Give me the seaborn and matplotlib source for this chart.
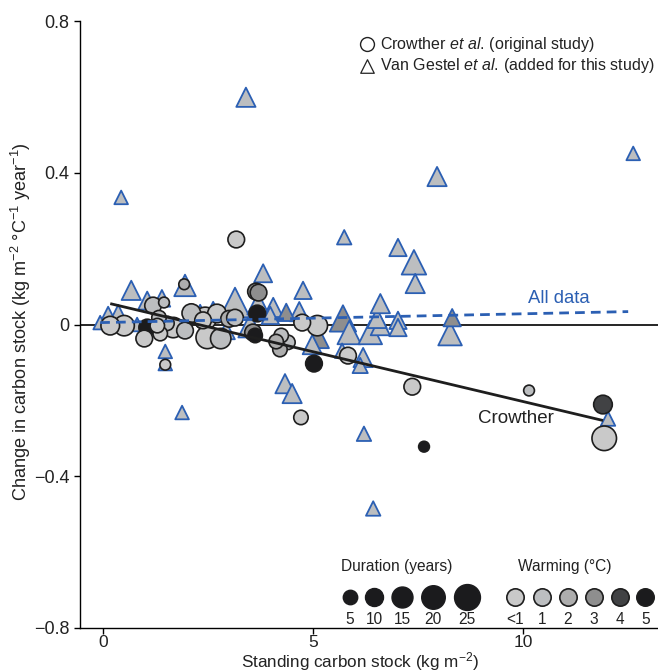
import numpy as np
import pandas as pd
import matplotlib
matplotlib.use("Agg")
import matplotlib.pyplot as plt
import seaborn as sns

# Crowther et al. (circles): standing stock, change, duration (years), warming class
cr_x = [3.17, 1.93, 3.64, 3.70, 3.67, 3.14, 2.71, 2.43, 2.48, 2.80, 3.57, 3.62,
        4.24, 4.40, 4.12, 4.21, 4.74, 5.10, 5.02, 5.83, 7.36, 10.14, 7.64, 11.90,
        11.93, 4.71, 0.17, 0.50, 1.19, 1.45, 1.05, 0.98, 1.33, 1.29, 1.52, 1.36,
        1.67, 1.95, 2.38, 1.48, 2.10, 3.00]
cr_y = [0.224, 0.106, 0.087, 0.084, 0.029, 0.018, 0.029, 0.016, -0.034, -0.037,
        -0.021, -0.029, -0.029, -0.047, -0.045, -0.066, 0.005, -0.003, -0.103,
        -0.082, -0.164, -0.174, -0.322, -0.211, -0.300, -0.245, -0.003, -0.003,
        0.050, 0.058, -0.008, -0.037, 0.018, -0.003, 0.003, -0.024, -0.008,
        -0.016, 0.011, -0.106, 0.030, 0.015]
cr_dur = [8, 1, 8, 8, 8, 8, 11, 18, 18, 14, 8, 5, 5, 5, 5, 5, 8, 14, 8, 8, 8, 1,
          1, 11, 22, 5, 11, 14, 8, 1, 8, 8, 5, 5, 5, 5, 14, 8, 8, 1, 11, 8]
cr_warm = ["<1", "2", "3", "3", "5", "1", "<1", "<1", "<1", "1", "3", "5",
           "1", "1", "2", "2", "<1", "<1", "5", "<1", "<1", "1", "5", "4",
           "<1", "<1", "<1", "<1", "1", "1", "5", "<1", "1", "<1", "1", "<1",
           "<1", "1", "<1", "<1", "1", "2"]

# Van Gestel et al. (triangles)
vg_x = [3.40, 12.62, 0.43, 7.95, 5.74, 7.02, 7.40, 7.43, 3.81, 1.95, 0.67, 1.88,
        6.21, 6.43, 4.33, 4.50, 12.02, 1.48, 1.48, 1.05, 1.40, 4.76, 3.14, 3.69,
        4.05, 4.36, 4.67, 3.50, 6.60, 5.71, 5.86, 6.36, 6.52, 6.60, 7.02, 7.02,
        8.31, 8.26, 4.98, 5.69, 6.19, 6.12, 5.12, 0.12, 0.36, -0.07, 0.81, 2.12,
        2.31, 2.62, 3.98, 2.93]
vg_y = [0.599, 0.451, 0.335, 0.390, 0.230, 0.203, 0.164, 0.108, 0.135, 0.103,
        0.090, -0.232, -0.288, -0.485, -0.156, -0.182, -0.248, -0.071, -0.103,
        0.063, 0.069, 0.090, 0.058, 0.055, 0.045, 0.032, 0.034, -0.003, 0.055,
        0.016, -0.021, -0.021, 0.016, -0.003, -0.008, 0.011, 0.018, -0.024,
        -0.053, -0.069, -0.087, -0.108, -0.034, 0.024, 0.029, 0.005, 0.000,
        0.024, 0.032, 0.037, 0.024, -0.016]
vg_dur = [12, 4, 4, 12, 5, 9, 22, 12, 10, 16, 12, 4, 5, 5, 12, 12, 5, 4, 4, 10,
          8, 9, 34, 16, 12, 9, 12, 20, 12, 26, 20, 20, 12, 12, 9, 9, 9, 20, 12,
          5, 12, 6, 16, 9, 9, 4, 4, 6, 6, 9, 9, 9]
vg_warm = ["1"] * len(vg_x)
for i in (25, 29, 36, 42):
    vg_warm[i] = "3"

# fitted lines
crowther_fit_x = [0.17, 11.9]
crowther_fit_y = [0.055, -0.253]
all_fit_x = [-0.07, 12.5]
all_fit_y = [0.005, 0.034]

warm_levels = ["<1", "1", "2", "3", "4", "5"]
dur_levels = [5, 10, 15, 20, 25]

warm_pal = {"<1": "#c9c9c9", "1": "#bcbec0", "2": "#adadad",
            "3": "#8e8e8e", "4": "#414244", "5": "#1b1b1d"}
blue = "#2b5fb3"
ink = "#222222"

df_cr = pd.DataFrame({"stock": cr_x, "change": cr_y,
                      "duration": cr_dur, "warming": cr_warm})
df_vg = pd.DataFrame({"stock": vg_x, "change": vg_y,
                      "duration": vg_dur, "warming": vg_warm})
df_cr = df_cr.sort_values("duration", ascending=False)
df_vg = df_vg.sort_values("duration", ascending=False)

sns.set_style("ticks")
plt.rcParams["font.family"] = ["Liberation Sans", "DejaVu Sans"]
plt.rcParams["mathtext.fontset"] = "custom"
plt.rcParams["mathtext.rm"] = "Liberation Sans"
plt.rcParams["mathtext.it"] = "Liberation Sans:italic"

SIZES = (60, 468)
SNORM = (1, 35)


def area(d):
    return SIZES[0] + (d - SNORM[0]) * (SIZES[1] - SIZES[0]) / (SNORM[1] - SNORM[0])


fig = plt.figure(figsize=(6.58, 6.72), dpi=100)
ax = fig.add_axes([80 / 658, 44 / 672, 578 / 658, 607 / 672])

ax.axhline(0, color="black", lw=1.2, zorder=1)

sns.scatterplot(data=df_vg, x="stock", y="change", hue="warming", size="duration",
                sizes=SIZES, size_norm=SNORM, palette=warm_pal, hue_order=warm_levels,
                marker="^", edgecolor=blue, linewidth=1.3, alpha=1,
                legend=False, ax=ax, zorder=2)
sns.scatterplot(data=df_cr, x="stock", y="change", hue="warming", size="duration",
                sizes=SIZES, size_norm=SNORM, palette=warm_pal, hue_order=warm_levels,
                marker="o", edgecolor="#1e1e1e", linewidth=1.2, alpha=1,
                legend=False, ax=ax, zorder=3)

ax.plot(crowther_fit_x, crowther_fit_y, color="#1e1e1e", lw=2, zorder=4,
        solid_capstyle="butt")
ax.plot(all_fit_x, all_fit_y, color=blue, lw=2, ls=(0, (3.5, 2.2)), zorder=4)

ax.text(10.85, 0.068, "All data", color=blue, fontsize=13.3, ha="center",
        va="center")
ax.text(9.83, -0.248, "Crowther", color=ink, fontsize=13.5, ha="center",
        va="center")

ax.set_xlim(-0.55, 13.21)
ax.set_ylim(-0.8, 0.8)
ax.set_xticks([0, 5, 10])
ax.set_xticklabels(["0", "5", "10"])
ax.set_yticks([-0.8, -0.4, 0, 0.4, 0.8])
ax.set_yticklabels(["\u22120.8", "\u22120.4", "0", "0.4", "0.8"])
ax.tick_params(axis="both", labelsize=13, length=4, width=1, color="black",
               labelcolor=ink)
ax.tick_params(axis="x", pad=1, labelsize=12.5)
sns.despine(ax=ax)
for sp in ("left", "bottom"):
    ax.spines[sp].set_color("black")
    ax.spines[sp].set_linewidth(1)

ax.set_xlabel("Standing carbon stock (kg m$^{-2}$)", fontsize=12.3, color=ink)
ax.set_ylabel("Change in carbon stock (kg m$^{-2}$ °C$^{-1}$ year$^{-1}$)",
              fontsize=13.1, color=ink)
ax.xaxis.set_label_coords((360 - 80) / 578, (628 - 662) / 607)
ax.yaxis.set_label_coords((21 - 80) / 578, 0.504)
ax.xaxis.label.set_va("center")
ax.yaxis.label.set_va("center")

# study legend (top right)
tr = ax.transAxes
ax.scatter([0.497], [0.962], s=100, marker="o", facecolor="white",
           edgecolor=ink, linewidth=1, transform=tr, clip_on=False)
ax.scatter([0.497], [0.926], s=95, marker="^", facecolor="white",
           edgecolor=ink, linewidth=0.9, transform=tr, clip_on=False)
ax.text(0.519, 0.962, "Crowther $\\it{et\\ al.}\\,$(original study)", transform=tr,
        fontsize=11.5, va="center", ha="left", color=ink)
ax.text(0.519, 0.926, "Van Gestel $\\it{et\\ al.}\\,$(added for this study)",
        transform=tr, fontsize=11.5, va="center", ha="left", color=ink)

# size legend (duration)
dur_x = [0.467, 0.509, 0.557, 0.611, 0.670]
ax.text(0.548, 0.102, "Duration (years)", transform=tr, fontsize=11.2,
        ha="center", va="center", color=ink)
for xx, d in zip(dur_x, dur_levels):
    ax.scatter([xx], [0.051], s=area(d), color="#1b1b1d", edgecolor="#1b1b1d",
               transform=tr, clip_on=False, zorder=5)
    ax.text(xx, 0.014, str(d), transform=tr, fontsize=11.2, ha="center",
            va="center", color=ink)

# colour legend (warming)
warm_x = [0.753, 0.799, 0.844, 0.889, 0.934, 0.978]
ax.text(0.839, 0.102, "Warming (°C)", transform=tr, fontsize=11.2,
        ha="center", va="center", color=ink)
for xx, w in zip(warm_x, warm_levels):
    ax.scatter([xx], [0.051], s=area(9), color=warm_pal[w], edgecolor="#1e1e1e",
               linewidth=1.2, transform=tr, clip_on=False, zorder=5)
    ax.text(xx, 0.014, w, transform=tr, fontsize=11.2, ha="center", va="center",
            color=ink)

fig.savefig("out.png", dpi=100)
